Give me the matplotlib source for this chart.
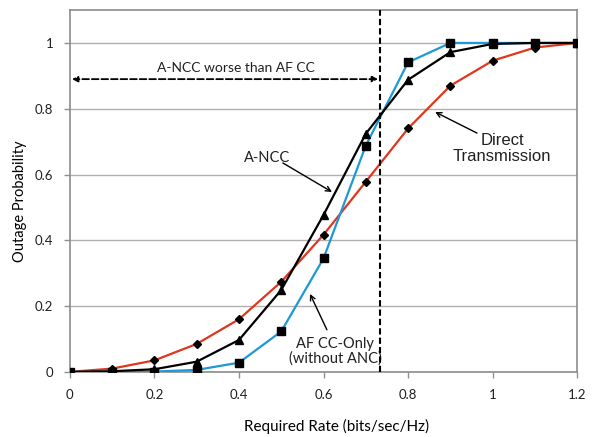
import matplotlib
matplotlib.use("Agg")
import matplotlib.pyplot as plt

# Required rate (bits/sec/Hz)
rate = [0, 0.1, 0.2, 0.3, 0.4, 0.5, 0.6, 0.7, 0.8, 0.9, 1.0, 1.1, 1.2]

# Outage probability
direct = [0, 0.01, 0.035, 0.085, 0.16, 0.274, 0.417, 0.578, 0.74, 0.87, 0.946, 0.986, 1.0]
ancc = [0, 0.002, 0.008, 0.031, 0.097, 0.249, 0.477, 0.724, 0.888, 0.972, 0.997, 1.0, 1.0]
afcc = [0, 0.0, 0.001, 0.006, 0.028, 0.123, 0.345, 0.688, 0.941, 1.0, 1.0, 1.0, 1.0]

x_ticks = [0, 0.2, 0.4, 0.6, 0.8, 1.0, 1.2]
x_tick_labels = ["0", "0.2", "0.4", "0.6", "0.8", "1", "1.2"]
y_ticks = [0, 0.2, 0.4, 0.6, 0.8, 1.0]
y_tick_labels = ["0", "0.2", "0.4", "0.6", "0.8", "1"]

crossover = 0.734

plt.rcParams['font.family'] = ['Lato', 'DejaVu Sans']

fig = plt.figure(figsize=(5.92, 4.37), dpi=100)
ax = fig.add_axes([0.118, 0.149, 0.857, 0.828])

ax.plot(rate, direct, color="#e0361c", lw=1.6, marker="D", ms=4.2,
        mfc="black", mec="black", zorder=3)
ax.plot(rate, afcc, color="#1d98d8", lw=1.6, marker="s", ms=5.5,
        mfc="black", mec="black", zorder=3)
ax.plot(rate, ancc, color="black", lw=1.6, marker="^", ms=5.5,
        mfc="black", mec="black", zorder=4)

ax.set_xlim(0, 1.2)
ax.set_ylim(0, 1.1)
ax.set_xticks(x_ticks)
ax.set_xticklabels(x_tick_labels)
ax.set_yticks(y_ticks)
ax.set_yticklabels(y_tick_labels)
ax.tick_params(axis="both", labelsize=9.5, length=4, width=1, direction="out",
               colors="#909090", labelcolor="#202020", pad=8)
ax.grid(axis="y", color="#b0b0b0", lw=1)
ax.set_axisbelow(True)
for s in ax.spines.values():
    s.set_color("#8c8c8c")
    s.set_linewidth(1.2)

ax.set_xlabel("Required Rate (bits/sec/Hz)", fontsize=11)
ax.xaxis.set_label_coords(0.526, -0.13)
ax.set_ylabel("Outage Probability", fontsize=10.5)
ax.yaxis.set_label_coords(-0.085, 0.472)

# crossover line and region arrow
ax.axvline(crossover, color="black", lw=1.5, ls=(0, (3, 1.5)), zorder=5)
ax.annotate("", xy=(0.005, 0.89), xytext=(crossover - 0.005, 0.89),
            arrowprops=dict(arrowstyle="<|-|>", ls="--", lw=1.3, color="black",
                            mutation_scale=8, shrinkA=0, shrinkB=0))
ax.text(0.392, 0.925, "A-NCC worse than AF CC", fontsize=10, ha="center",
        va="center", color="#202020")

arrow = dict(arrowstyle="->", lw=1, color="black", mutation_scale=9,
             shrinkA=0, shrinkB=0)

ax.text(0.466, 0.65, "A-NCC", fontsize=10.5, ha="center", va="center",
        color="#202020")
ax.annotate("", xy=(0.62, 0.547), xytext=(0.504, 0.635), arrowprops=arrow)

ax.text(0.627, 0.063, "AF CC-Only\n(without ANC)", fontsize=10.5,
        ha="center", va="center", color="#202020", linespacing=1.0)
ax.annotate("", xy=(0.568, 0.237), xytext=(0.608, 0.128), arrowprops=arrow)

ax.text(1.022, 0.678, "Direct\nTransmission", fontsize=12, ha="center",
        va="center", color="#202020", family=["Liberation Sans"],
        linespacing=1.1)
ax.annotate("", xy=(0.864, 0.79), xytext=(0.963, 0.726), arrowprops=arrow)

fig.savefig("out.png", dpi=100)
